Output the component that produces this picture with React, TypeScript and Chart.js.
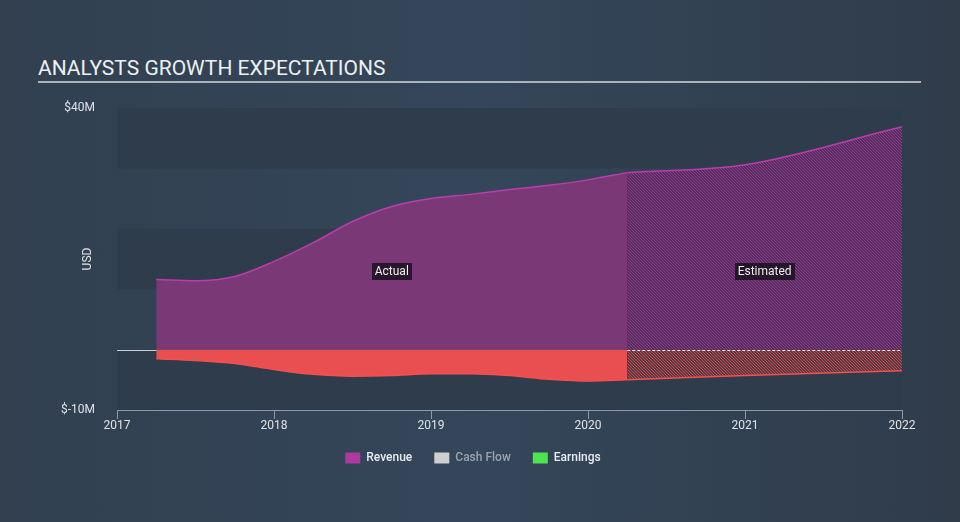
import React, { useEffect, useRef } from 'react';
import { Chart, registerables } from 'chart.js';

Chart.register(...registerables);

// ---------- data ----------
const xTickYears = [2017, 2018, 2019, 2020, 2021, 2022];

const actualDates = [2017.25, 2017.5, 2017.75, 2018.0, 2018.25, 2018.5, 2018.75, 2019.0, 2019.25, 2019.5, 2019.75, 2020.0, 2020.25];
const revenueActual = [11.6, 11.4, 12.1, 14.6, 17.7, 21.2, 23.7, 25.0, 25.7, 26.5, 27.2, 28.1, 29.3];
const earningsActual = [-1.5, -1.8, -2.3, -3.3, -4.1, -4.4, -4.3, -4.0, -4.0, -4.3, -4.9, -5.2, -5.0];

const estimateDates = [2020.25, 2021.0, 2022.0];
const revenueEstimate = [29.3, 30.6, 36.9];
const earningsEstimate = [-5.0, -4.3, -3.5];

const yMin = -10;
const yMax = 40;
const yStep = 10;
const yTickValues = [-10, 40];
const yTickTexts = ['$-10M', '$40M'];

const legendNames = ['Revenue', 'Cash Flow', 'Earnings'];
const legendColors = ['#ad3a9e', '#cfcfcf', '#4ee44e'];
const legendTextColors = ['#e9ecef', '#9aa4af', '#e9ecef'];

const periodLabels = ['Actual', 'Estimated'];
const periodLabelValue = 12.9;

const FONT = 'Roboto, "Noto Sans", sans-serif';
const TEXT = '#dfe3e8';

function zip(xs: number[], ys: number[]) {
  return xs.map((x, i) => ({ x, y: ys[i] }));
}

function makePattern(base: number[], stripe: number[], period: number) {
  const c = document.createElement('canvas');
  c.width = period;
  c.height = period;
  const ctx = c.getContext('2d')!;
  const img = ctx.createImageData(period, period);
  for (let y = 0; y < period; y++) {
    for (let x = 0; x < period; x++) {
      const on = (((x - y) % period) + period) % period === 0;
      const col = on ? stripe : base;
      const i = (y * period + x) * 4;
      img.data[i] = col[0];
      img.data[i + 1] = col[1];
      img.data[i + 2] = col[2];
      img.data[i + 3] = 255;
    }
  }
  ctx.putImageData(img, 0, 0);
  return ctx.createPattern(c, 'repeat')!;
}

const bandsPlugin = {
  id: 'bands',
  beforeDatasetsDraw(chart: any) {
    const { ctx, chartArea } = chart;
    const ys = chart.scales.y;
    ctx.save();
    ctx.fillStyle = 'rgb(46,60,76)';
    for (let v = yMin; v < yMax; v += 2 * yStep) {
      const top = ys.getPixelForValue(v + yStep);
      const bottom = ys.getPixelForValue(v);
      ctx.fillRect(chartArea.left, top, chartArea.right - chartArea.left, bottom - top);
    }
    const z = Math.round(ys.getPixelForValue(0)) + 0.5;
    ctx.strokeStyle = '#c9ced4';
    ctx.lineWidth = 1;
    ctx.beginPath();
    ctx.moveTo(chartArea.left, z);
    ctx.lineTo(chartArea.right, z);
    ctx.stroke();
    ctx.restore();
  },
  afterDatasetsDraw(chart: any) {
    const { ctx, chartArea } = chart;
    const xs = chart.scales.x;
    const ys = chart.scales.y;
    ctx.save();
    const z = Math.round(ys.getPixelForValue(0)) + 0.5;
    ctx.strokeStyle = 'rgba(255,255,255,0.85)';
    ctx.setLineDash([3, 2]);
    ctx.lineWidth = 1;
    ctx.beginPath();
    ctx.moveTo(xs.getPixelForValue(estimateDates[0]), z);
    ctx.lineTo(chartArea.right, z);
    ctx.stroke();
    ctx.setLineDash([]);

    const mids = [
      (actualDates[0] + actualDates[actualDates.length - 1]) / 2,
      (estimateDates[0] + estimateDates[estimateDates.length - 1]) / 2,
    ];
    ctx.font = `12px ${FONT}`;
    ctx.textAlign = 'center';
    ctx.textBaseline = 'middle';
    periodLabels.forEach((t, i) => {
      const cx = xs.getPixelForValue(mids[i]);
      const cy = ys.getPixelForValue(periodLabelValue);
      const w = ctx.measureText(t).width + 6;
      const h = 17;
      ctx.fillStyle = 'rgba(22,16,28,0.82)';
      ctx.fillRect(Math.round(cx - w / 2), Math.round(cy - h / 2), Math.round(w), h);
      ctx.fillStyle = '#eeeeee';
      ctx.fillText(t, cx, cy + 0.5);
    });
    ctx.restore();
  },
};

export default function App() {
  const ref = useRef<HTMLCanvasElement | null>(null);

  useEffect(() => {
    if (!ref.current) return;
    const purpleHatch = makePattern([82, 46, 92], [150, 58, 145], 3);
    const redHatch = makePattern([84, 58, 68], [205, 74, 74], 3);

    const chart = new Chart(ref.current, {
      type: 'line',
      data: {
        datasets: [
          {
            label: 'Revenue',
            data: zip(actualDates, revenueActual),
            borderColor: '#bb3dab',
            borderWidth: 1.5,
            backgroundColor: 'rgb(122,57,118)',
            fill: 'origin',
            pointRadius: 0,
            cubicInterpolationMode: 'monotone',
          },
          {
            label: 'Revenue estimate',
            data: zip(estimateDates, revenueEstimate),
            borderColor: '#bb3dab',
            borderWidth: 1.5,
            backgroundColor: purpleHatch,
            fill: 'origin',
            pointRadius: 0,
            cubicInterpolationMode: 'monotone',
          },
          {
            label: 'Earnings',
            data: zip(actualDates, earningsActual),
            borderColor: '#f4504f',
            borderWidth: 1.5,
            backgroundColor: 'rgb(233,79,80)',
            fill: 'origin',
            pointRadius: 0,
            cubicInterpolationMode: 'monotone',
          },
          {
            label: 'Earnings estimate',
            data: zip(estimateDates, earningsEstimate),
            borderColor: '#f4504f',
            borderWidth: 1.5,
            backgroundColor: redHatch,
            fill: 'origin',
            pointRadius: 0,
            cubicInterpolationMode: 'monotone',
          },
        ],
      } as any,
      options: {
        animation: false,
        responsive: false,
        layout: { padding: { left: 44, right: 58, top: 108, bottom: 48 } },
        scales: {
          x: {
            type: 'linear',
            min: xTickYears[0],
            max: xTickYears[xTickYears.length - 1],
            afterBuildTicks: (s: any) => {
              s.ticks = xTickYears.map((v) => ({ value: v }));
            },
            afterFit: (s: any) => {
              s.height = 20;
            },
            ticks: {
              color: TEXT,
              font: { size: 12, family: FONT },
              padding: 0,
              maxRotation: 0,
              autoSkip: false,
              callback: (v: any) => String(v),
            },
            grid: { drawOnChartArea: false, tickLength: 9, color: '#8b9aab' },
            border: { color: '#8b9aab', width: 1 },
          },
          y: {
            min: yMin,
            max: yMax,
            afterBuildTicks: (s: any) => {
              s.ticks = yTickValues.map((v) => ({ value: v }));
            },
            afterFit: (s: any) => {
              s.width = 73;
            },
            ticks: {
              color: TEXT,
              font: { size: 12, family: FONT },
              padding: 14,
              callback: (v: any) => {
                const i = yTickValues.indexOf(Number(v));
                return i >= 0 ? yTickTexts[i] : '';
              },
            },
            grid: { display: false },
            border: { display: false },
            title: {
              display: true,
              text: 'USD',
              color: TEXT,
              font: { size: 12, family: FONT },
              padding: { top: 37, bottom: 0 },
            },
          },
        } as any,
        plugins: {
          legend: {
            display: true,
            position: 'bottom',
            align: 'center',
            onClick: () => {},
            labels: {
              boxWidth: 15,
              boxHeight: 11,
              padding: 22,
              font: { size: 12, family: FONT, weight: '500' },
              generateLabels: () =>
                legendNames.map((n, i) => ({
                  text: n,
                  fillStyle: legendColors[i],
                  strokeStyle: legendColors[i],
                  lineWidth: 0,
                  fontColor: legendTextColors[i],
                  hidden: false,
                  datasetIndex: i,
                })),
            },
          },
          tooltip: { enabled: false },
        } as any,
      },
      plugins: [bandsPlugin],
    });
    return () => chart.destroy();
  }, []);

  return (
    <div
      style={{
        position: 'absolute',
        left: 0,
        top: 0,
        width: 960,
        height: 522,
        background: 'linear-gradient(90deg, #324050 0%, #34465a 50%, #303c4a 100%)',
        overflow: 'hidden',
      }}
    >
      <div
        style={{
          position: 'absolute',
          left: 38,
          top: 58,
          fontFamily: FONT,
          fontSize: 21,
          lineHeight: '21px',
          color: '#eef0f2',
          whiteSpace: 'nowrap',
        }}
      >
        ANALYSTS GROWTH EXPECTATIONS
      </div>
      <div
        style={{
          position: 'absolute',
          left: 38,
          top: 81,
          width: 883,
          height: 2,
          background: '#aab2bb',
        }}
      />
      <canvas ref={ref} width={960} height={522} style={{ position: 'absolute', left: 0, top: 0 }} />
    </div>
  );
}
